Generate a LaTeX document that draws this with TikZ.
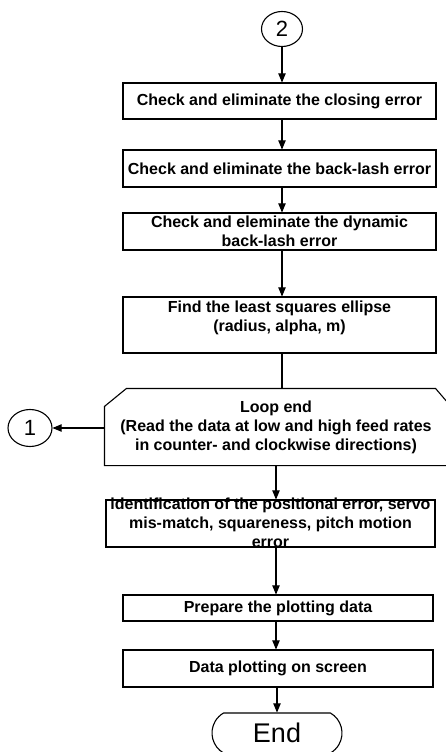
\documentclass[tikz,border=0pt]{standalone}
\usepackage{fontspec}
\setmainfont{Liberation Sans}
\usetikzlibrary{arrows,shapes}

\begin{document}
\begin{tikzpicture}[x=1pt,y=-1pt,
  box/.style={draw,rectangle,line width=1.1pt,align=center,inner sep=0pt,
    font=\fontsize{16}{19}\selectfont\bfseries},
  flow/.style={line width=1.1pt,-triangle 45}]
\useasboundingbox (0,0) rectangle (446,752);
\node[draw,ellipse,line width=1.1pt,minimum width=41pt,minimum height=35pt,inner sep=0pt,font=\fontsize{22}{22}\selectfont] (two) at (282,29) {2};
\node[box,minimum width=313pt,minimum height=36pt] (closing) at (279.5,101) {Check and eliminate the closing error};
\node[box,minimum width=313pt,minimum height=37pt] (backlash) at (279.5,168.5) {Check and eliminate the back-lash error};
\node[box,minimum width=313pt,minimum height=37pt] (dynamic) at (279.5,231.5) {Check and eleminate the dynamic\\back-lash error};
\node[box,minimum width=313pt,text height=34pt,text depth=22pt] (ellipse) at (279.5,325) {Find the least squares ellipse\\(radius, alpha, m)};
\node[box,draw=none,minimum width=342pt,minimum height=76pt] (loop) at (276,427) {Loop end\\(Read the data at low and high feed rates\\in counter- and clockwise directions)};
% loop end outline with cut corners
\draw[line width=1.1pt] ([yshift=-18pt]loop.north west) -- ([xshift=22pt]loop.north west)
  -- ([xshift=-12pt]loop.north east) -- ([yshift=-14pt]loop.north east)
  -- (loop.south east) -- (loop.south west) -- cycle;
\node[draw,ellipse,line width=1.1pt,minimum width=44pt,minimum height=37pt,inner sep=0pt,font=\fontsize{22}{22}\selectfont] (one) at (30,428) {1};
\node[box,minimum width=329pt,text height=47pt,text depth=0pt] (ident) at (270.5,523.5) {identification of the positional error, servo\\mis-match, squareness, pitch motion\\error};
\node[box,minimum width=310pt,minimum height=26pt] (prepare) at (278,608) {Prepare the plotting data};
\node[box,minimum width=310pt,minimum height=37pt] (plot) at (278,668.5) {Data plotting on screen};
\node[draw,rounded rectangle,rounded rectangle arc length=120,line width=1.1pt,minimum width=130pt,minimum height=40pt,inner sep=0pt,font=\fontsize{27}{27}\selectfont] (end) at (277,733) {End};
\draw[flow] (two) -- (two |- closing.north);
\draw[flow] (closing.south -| two) -- (two |- backlash.north);
\draw[flow] (backlash.south -| two) -- (two |- dynamic.north);
\draw[flow] (dynamic.south -| two) -- (two |- ellipse.north);
\draw[line width=1.1pt] (ellipse.south -| two) -- (two |- loop.north);
\draw[flow] (loop.south) -- (loop.south |- ident.north);
\draw[flow] (ident.south -| loop.south) -- (loop.south |- prepare.north);
\draw[flow] (prepare.south -| loop.south) -- (loop.south |- plot.north);
\draw[flow] (plot.south -| end) -- (end.north);
\draw[flow] (loop.west |- one) -- (one.east);
\end{tikzpicture}
\end{document}
